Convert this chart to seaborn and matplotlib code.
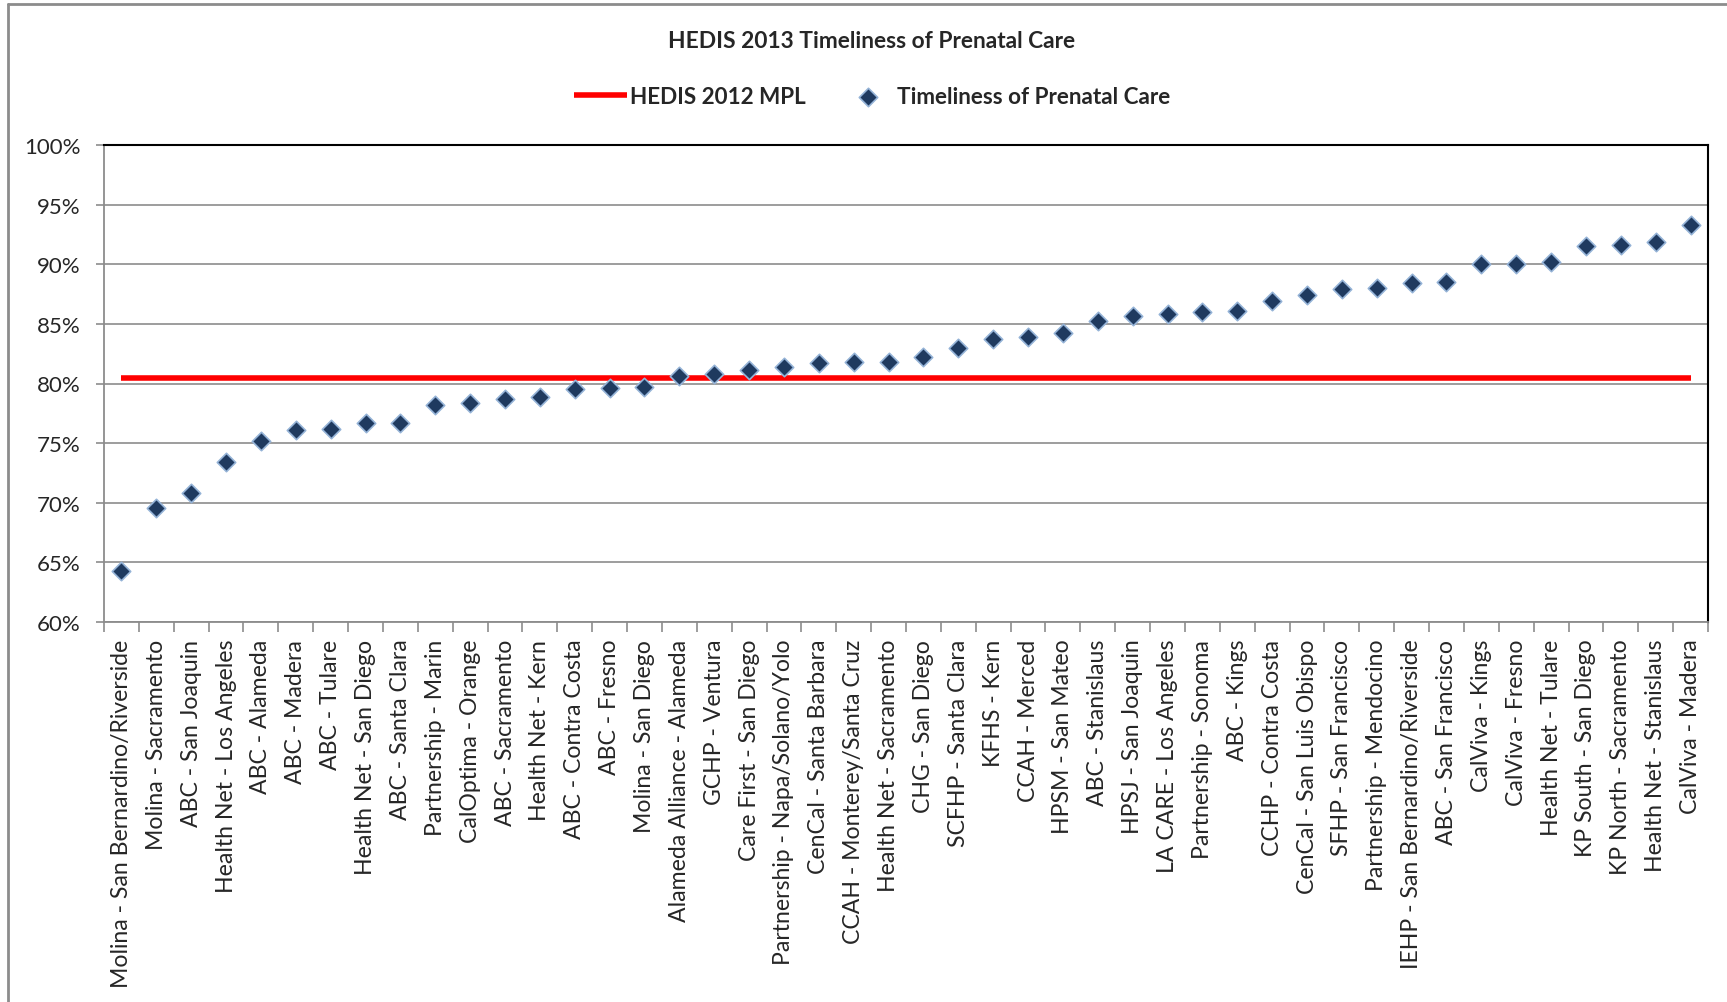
import matplotlib
matplotlib.use("Agg")
import matplotlib.pyplot as plt
import seaborn as sns
import pandas as pd
from matplotlib.ticker import FuncFormatter, FixedLocator
from matplotlib.lines import Line2D

plans = [
    "Molina - San Bernardino/Riverside", "Molina - Sacramento", "ABC - San Joaquin",
    "Health Net - Los Angeles", "ABC - Alameda", "ABC - Madera", "ABC - Tulare",
    "Health Net - San Diego", "ABC - Santa Clara", "Partnership - Marin",
    "CalOptima - Orange", "ABC - Sacramento", "Health Net - Kern", "ABC - Contra Costa",
    "ABC - Fresno", "Molina - San Diego", "Alameda Alliance - Alameda", "GCHP - Ventura",
    "Care First - San Diego", "Partnership - Napa/Solano/Yolo", "CenCal - Santa Barbara",
    "CCAH - Monterey/Santa Cruz", "Health Net - Sacramento", "CHG - San Diego",
    "SCFHP - Santa Clara", "KFHS - Kern", "CCAH - Merced", "HPSM - San Mateo",
    "ABC - Stanislaus", "HPSJ - San Joaquin", "LA CARE - Los Angeles",
    "Partnership - Sonoma", "ABC - Kings", "CCHP - Contra Costa",
    "CenCal - San Luis Obispo", "SFHP - San Francisco", "Partnership - Mendocino",
    "IEHP - San Bernardino/Riverside", "ABC - San Francisco", "CalViva - Kings",
    "CalViva - Fresno", "Health Net - Tulare", "KP South - San Diego",
    "KP North - Sacramento", "Health Net - Stanislaus", "CalViva - Madera",
]
timeliness = [
    64.3, 69.6, 70.8, 73.4, 75.2, 76.1, 76.2, 76.7, 76.7, 78.2,
    78.4, 78.7, 78.9, 79.5, 79.6, 79.7, 80.6, 80.8, 81.1, 81.4,
    81.7, 81.8, 81.8, 82.2, 83.0, 83.7, 83.9, 84.2, 85.2, 85.7,
    85.8, 86.0, 86.1, 86.9, 87.4, 87.9, 88.0, 88.4, 88.5, 90.0,
    90.0, 90.2, 91.5, 91.6, 91.9, 93.3,
]
mpl_2012 = 80.5
y_ticks = [60, 65, 70, 75, 80, 85, 90, 95, 100]

title = "HEDIS 2013 Timeliness of Prenatal Care"
line_label = "HEDIS 2012 MPL"
point_label = "Timeliness of Prenatal Care"

sns.set_theme(style="white")
plt.rcParams["font.family"] = ["Lato", "DejaVu Sans"]

df = pd.DataFrame({"plan": plans, "value": timeliness})

fig = plt.figure(figsize=(17.27, 10.03), dpi=100)
ax = fig.add_axes([104 / 1727, 1 - 623 / 1003, (1708 - 104) / 1727, (623 - 146) / 1003])

n = len(plans)
ax.hlines(mpl_2012, 0, n - 1, colors="#FF0000", linewidth=4.0, label=line_label, zorder=3)
sns.scatterplot(data=df, x="plan", y="value", ax=ax, marker="D", s=88,
                color="#1F3A5F", edgecolor="#95B3D7", linewidth=1.2,
                label=point_label, zorder=4)

ax.set_xlim(-0.5, n - 0.5)
ax.set_ylim(60, 100)
ax.yaxis.set_major_locator(FixedLocator(y_ticks))
ax.yaxis.set_major_formatter(FuncFormatter(lambda v, p: f"{v:.0f}%"))
ax.grid(axis="y", color="#8C8C8C", linewidth=1.2)
ax.set_axisbelow(True)
ax.set_xlabel("")
ax.set_ylabel("")

ax.set_xticks(range(n))
ax.set_xticklabels(plans, rotation=90, ha="center", va="top", fontsize=16.6)
ax.set_xticks([i - 0.5 for i in range(n + 1)], minor=True)
ax.tick_params(axis="x", which="major", length=0, pad=12)
ax.tick_params(axis="x", which="minor", length=7.5, width=1.2, color="#8C8C8C", direction="out", bottom=True)
ax.tick_params(axis="y", which="major", length=6, width=1.2, color="#8C8C8C", direction="out", left=True,
               labelsize=16, pad=11)

for side in ["left", "bottom"]:
    ax.spines[side].set_color("#8C8C8C")
    ax.spines[side].set_linewidth(1.3)
for side in ["top", "right"]:
    ax.spines[side].set_visible(True)
    ax.spines[side].set_color("black")
    ax.spines[side].set_linewidth(1.5)

if ax.get_legend():
    ax.get_legend().remove()
handles, labels = ax.get_legend_handles_labels()
order = [labels.index(line_label), labels.index(point_label)]
fig.legend([handles[i] for i in order], [labels[i] for i in order],
           loc="center", bbox_to_anchor=(872 / 1727, 1 - 97 / 1003), ncol=2, frameon=False,
           prop={"weight": "bold", "size": 16.2}, handlelength=2.36, handletextpad=0.1,
           columnspacing=1.6, borderaxespad=0, borderpad=0)

fig.text(872 / 1727, 1 - 42 / 1003, title, ha="center", va="center", fontsize=16.4, fontweight="bold")

# chart area frame (top and left edges)
fig.add_artist(Line2D([8 / 1727, 1], [1 - 5 / 1003, 1 - 5 / 1003], transform=fig.transFigure,
                      color="#8C8C8C", linewidth=2))
fig.add_artist(Line2D([8 / 1727, 8 / 1727], [0, 1 - 5 / 1003], transform=fig.transFigure,
                      color="#8C8C8C", linewidth=2))

fig.savefig("out.png", dpi=100, facecolor="white")
